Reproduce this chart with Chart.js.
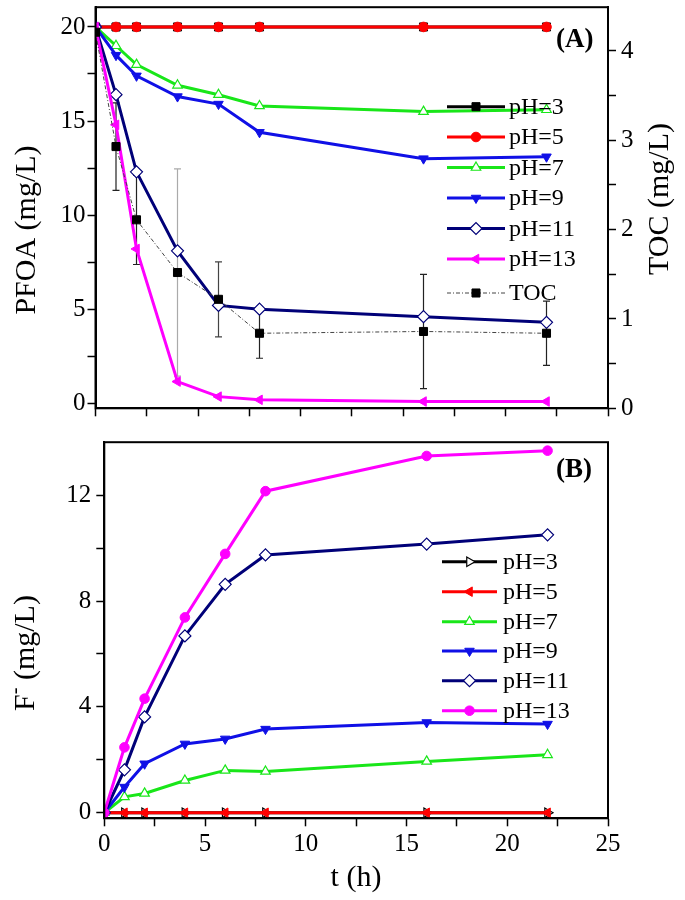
<!DOCTYPE html>
<html>
<head>
<meta charset="utf-8">
<script src="https://cdn.jsdelivr.net/npm/chart.js"></script>
<style>
  html, body { margin: 0; padding: 0; background: #fff; }
  #wrap { position: relative; width: 685px; height: 900px; }
  canvas { position: absolute; left: 0; }
  #chartA { top: 0; }
  #chartB { top: 435px; }
</style>
</head>
<body>
<div id="wrap">
  <canvas id="chartA" width="685" height="435"></canvas>
  <canvas id="chartB" width="685" height="465"></canvas>
</div>
<script>
// sampling times (h)
const timeH = [0, 1, 2, 4, 6, 8, 16, 22];

// (A) PFOA remaining (mg/L)
const pfoaPH3 = [20, 20, 20, 20, 20, 20, 20, 20];
const pfoaPH5 = [20, 20, 20, 20, 20, 20, 20, 20];
const pfoaPH7 = [20, 19.0, 18.0, 16.9, 16.4, 15.8, 15.5, 15.6];
const pfoaPH9 = [20, 18.5, 17.4, 16.3, 15.9, 14.4, 13.0, 13.1];
const pfoaPH11 = [20, 16.4, 12.3, 8.1, 5.2, 5.0, 4.6, 4.3];
const pfoaPH13 = [20, 14.8, 8.2, 1.15, 0.35, 0.18, 0.09, 0.09];

// (A) TOC (mg/L) with error
const toc = [4.21, 2.93, 2.11, 1.52, 1.22, 0.84, 0.86, 0.84];
const tocErr = [0, 0.49, 0.5, 1.16, 0.42, 0.28, 0.64, 0.36];

// (B) fluoride released (mg/L)
const fPH3 = [0, 0, 0, 0, 0, 0, 0, 0];
const fPH5 = [0, 0, 0, 0, 0, 0, 0, 0];
const fPH7 = [0, 0.6, 0.73, 1.22, 1.6, 1.56, 1.94, 2.19];
const fPH9 = [0, 0.97, 1.85, 2.6, 2.79, 3.16, 3.41, 3.35];
const fPH11 = [0, 1.62, 3.62, 6.68, 8.63, 9.74, 10.15, 10.5];
const fPH13 = [0, 2.47, 4.31, 7.38, 9.78, 12.15, 13.48, 13.68];

// tick values
const tTicks = [0, 2.5, 5, 7.5, 10, 12.5, 15, 17.5, 20, 22.5, 25];
const pfoaTicks = [0, 2.5, 5, 7.5, 10, 12.5, 15, 17.5, 20];
const tocTicks = [0, 0.5, 1, 1.5, 2, 2.5, 3, 3.5, 4];
const fTicks = [0, 2, 4, 6, 8, 10, 12];

const FONT = '"Liberation Serif", "Times New Roman", serif';
const RED = '#ff0000', GREEN = '#19e619', BLUE = '#1010e6', NAVY = '#000078', MAG = '#ff00ff';

function pts(vals) {
  return vals.map((v, i) => ({ x: timeH[i], y: v }));
}

function series(label, vals, color, marker, order, extra) {
  return Object.assign({
    label: label,
    data: pts(vals),
    borderColor: color,
    borderWidth: 3,
    pointStyle: marker.style,
    pointRotation: marker.rot || 0,
    pointRadius: marker.r || 5.5,
    pointBackgroundColor: marker.open ? '#fff' : color,
    pointBorderColor: color,
    pointBorderWidth: marker.open ? 1.2 : 1,
    tension: 0,
    order: order
  }, extra || {});
}

function fixedTicks(values) {
  return scale => { scale.ticks = values.map(v => ({ value: v })); };
}

function axis(o) {
  return {
    type: 'linear',
    position: o.position,
    min: o.min,
    max: o.max,
    afterBuildTicks: fixedTicks(o.ticks),
    afterFit: scale => {
      if (o.width !== undefined) scale.width = o.width;
      if (o.height !== undefined) scale.height = o.height;
      scale.paddingTop = 0; scale.paddingBottom = 0;
      scale.paddingLeft = 0; scale.paddingRight = 0;
    },
    ticks: {
      autoSkip: false,
      maxRotation: 0,
      padding: o.padding || 3,
      color: '#000',
      font: { family: FONT, size: 25 },
      callback: o.label
    },
    grid: { drawOnChartArea: false, tickLength: 8, tickColor: '#000', tickWidth: 1.5 },
    border: { color: '#000', width: 2 }
  };
}

// box around the plot area
const frame = {
  id: 'frame',
  afterDraw(chart) {
    const a = chart.chartArea, ctx = chart.ctx;
    ctx.save();
    ctx.strokeStyle = '#000';
    ctx.lineWidth = 2;
    ctx.strokeRect(a.left, a.top, a.right - a.left, a.bottom - a.top);
    ctx.restore();
  }
};

// Origin style legend: line with marker in the middle
const lineLegend = {
  id: 'lineLegend',
  afterDraw(chart, args, opts) {
    const ctx = chart.ctx;
    ctx.save();
    chart.data.datasets.forEach((ds, i) => {
      const y = opts.rows[i];
      ctx.strokeStyle = ds.borderColor;
      ctx.lineWidth = ds.borderWidth;
      ctx.setLineDash(ds.borderDash || []);
      ctx.beginPath();
      ctx.moveTo(opts.x0, y);
      ctx.lineTo(opts.x1, y);
      ctx.stroke();
      ctx.setLineDash([]);
      ctx.fillStyle = ds.pointBackgroundColor;
      ctx.strokeStyle = ds.pointBorderColor;
      ctx.lineWidth = ds.pointBorderWidth;
      Chart.helpers.drawPoint(ctx, {
        pointStyle: ds.pointStyle,
        rotation: ds.pointRotation,
        radius: ds.pointRadius,
        borderWidth: ds.pointBorderWidth
      }, (opts.x0 + opts.x1) / 2, y);
      ctx.fillStyle = '#000';
      ctx.font = '24px ' + FONT;
      ctx.textAlign = 'left';
      ctx.textBaseline = 'middle';
      ctx.fillText(ds.label, opts.textX, y + 1);
    });
    ctx.restore();
  }
};

// axis titles and panel tags
const texts = {
  id: 'texts',
  afterDraw(chart, args, opts) {
    const ctx = chart.ctx;
    opts.items.forEach(it => {
      ctx.save();
      ctx.translate(it.x, it.y);
      if (it.rotate) ctx.rotate(-Math.PI / 2);
      ctx.fillStyle = '#000';
      ctx.textBaseline = 'middle';
      ctx.textAlign = 'left';
      let total = 0;
      it.parts.forEach(p => { ctx.font = p.font; total += ctx.measureText(p.t).width; });
      let cx = it.align === 'left' ? 0 : -total / 2;
      it.parts.forEach(p => {
        ctx.font = p.font;
        ctx.fillText(p.t, cx, p.dy || 0);
        cx += ctx.measureText(p.t).width;
      });
      ctx.restore();
    });
  }
};

// TOC error bars
const errorBars = {
  id: 'errorBars',
  beforeDatasetsDraw(chart, args, opts) {
    const ctx = chart.ctx;
    const xs = chart.scales.x, ys = chart.scales.yToc;
    ctx.save();
    ctx.lineWidth = 1.2;
    tocErr.forEach((e, i) => {
      if (!e) return;
      const px = xs.getPixelForValue(timeH[i]);
      const top = ys.getPixelForValue(toc[i] + e);
      const bot = ys.getPixelForValue(toc[i] - e);
      ctx.strokeStyle = opts.colors[i];
      ctx.beginPath();
      ctx.moveTo(px, top); ctx.lineTo(px, bot);
      ctx.moveTo(px - 3.5, top); ctx.lineTo(px + 3.5, top);
      ctx.moveTo(px - 3.5, bot); ctx.lineTo(px + 3.5, bot);
      ctx.stroke();
    });
    ctx.restore();
  }
};

const titleFont = '30px ' + FONT;

new Chart(document.getElementById('chartA'), {
  type: 'line',
  data: {
    datasets: [
      series('pH=3', pfoaPH3, '#000', { style: 'rect', r: 5.7 }, 7, { yAxisID: 'y' }),
      series('pH=5', pfoaPH5, RED, { style: 'circle', r: 4.8 }, 6, { yAxisID: 'y' }),
      series('pH=7', pfoaPH7, GREEN, { style: 'triangle', r: 5.5, open: true }, 5, { yAxisID: 'y' }),
      series('pH=9', pfoaPH9, BLUE, { style: 'triangle', rot: 180, r: 5.5 }, 4, { yAxisID: 'y' }),
      series('pH=11', pfoaPH11, NAVY, { style: 'rectRot', r: 6, open: true }, 3, { yAxisID: 'y' }),
      series('pH=13', pfoaPH13, MAG, { style: 'triangle', rot: 270, r: 5.5 }, 2, { yAxisID: 'y' }),
      series('TOC', toc, '#000', { style: 'rect', r: 5.7 }, 1, {
        yAxisID: 'yToc', borderWidth: 1, borderColor: '#444', borderDash: [4, 2, 1, 2]
      })
    ]
  },
  options: {
    responsive: false,
    animation: false,
    layout: { padding: { top: 7, left: 0, right: 0, bottom: 0 } },
    scales: {
      x: axis({ position: 'bottom', min: 0, max: 25, ticks: tTicks, height: 435 - 408.3, label: () => '' }),
      y: axis({ position: 'left', min: -0.27, max: 21.05, ticks: pfoaTicks, width: 95.5, padding: 2,
                label: v => (v % 5 === 0 ? String(v) : '') }),
      yToc: axis({ position: 'right', min: 0, max: 4.49, ticks: tocTicks, width: 685 - 608, padding: 5,
                   label: v => (v % 1 === 0 ? String(v) : '') })
    },
    plugins: {
      legend: { display: false },
      tooltip: { enabled: false },
      lineLegend: { x0: 447, x1: 505, textX: 509, rows: [106.7, 137, 167.5, 198, 228.5, 259, 293] },
      errorBars: { colors: ['#000', '#222', '#222', '#aaa', '#444', '#222', '#222', '#222'] },
      texts: {
        items: [
          { x: 27, y: 230, rotate: true, parts: [{ t: 'PFOA (mg/L)', font: titleFont }] },
          { x: 660, y: 199, rotate: true, parts: [{ t: 'TOC (mg/L)', font: titleFont }] },
          { x: 556, y: 40, align: 'left', parts: [{ t: '(A)', font: 'bold 27px ' + FONT }] }
        ]
      }
    }
  },
  plugins: [errorBars, frame, lineLegend, texts]
});

new Chart(document.getElementById('chartB'), {
  type: 'line',
  data: {
    datasets: [
      series('pH=3', fPH3, '#000', { style: 'triangle', rot: 90, r: 5.5, open: true }, 6),
      series('pH=5', fPH5, RED, { style: 'triangle', rot: 270, r: 5.5 }, 5),
      series('pH=7', fPH7, GREEN, { style: 'triangle', r: 5.5, open: true }, 4),
      series('pH=9', fPH9, BLUE, { style: 'triangle', rot: 180, r: 5.5 }, 3),
      series('pH=11', fPH11, NAVY, { style: 'rectRot', r: 6, open: true }, 2),
      series('pH=13', fPH13, MAG, { style: 'circle', r: 4.8 }, 1)
    ]
  },
  options: {
    responsive: false,
    animation: false,
    layout: { padding: { top: 5, left: 0, right: 685 - 608, bottom: 0 } },
    scales: {
      x: axis({ position: 'bottom', min: 0, max: 25, ticks: tTicks, height: 465 - 383.3, padding: 3,
                label: v => (v % 5 === 0 ? String(v) : '') }),
      y: axis({ position: 'left', min: -0.21, max: 14, ticks: fTicks, width: 104.3, padding: 5,
                label: v => (v % 4 === 0 ? String(v) : '') })
    },
    plugins: {
      legend: { display: false },
      tooltip: { enabled: false },
      lineLegend: { x0: 442, x1: 497, textX: 503, rows: [126.7, 156.7, 186.7, 216, 245.7, 275.7] },
      texts: {
        items: [
          { x: 26, y: 218, rotate: true, parts: [
            { t: 'F', font: titleFont },
            { t: '-', font: '20px ' + FONT, dy: -10 },
            { t: ' (mg/L)', font: titleFont }
          ] },
          { x: 356, y: 443, parts: [{ t: 't (h)', font: titleFont }] },
          { x: 556, y: 35, align: 'left', parts: [{ t: '(B)', font: 'bold 27px ' + FONT }] }
        ]
      }
    }
  },
  plugins: [frame, lineLegend, texts]
});
</script>
</body>
</html>
